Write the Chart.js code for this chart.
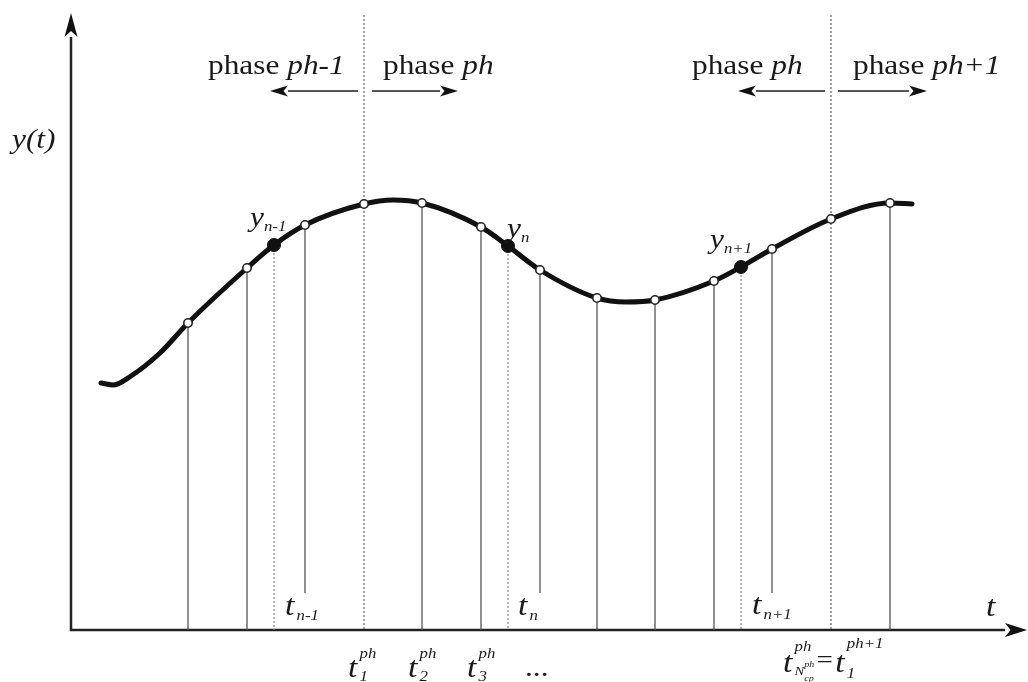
<!DOCTYPE html>
<html>
<head>
<meta charset="utf-8">
<script src="https://cdn.jsdelivr.net/npm/chart.js@4"></script>
<style>
  html, body { margin: 0; padding: 0; background: #fff; }
  #wrap { width: 1028px; height: 682px; }
</style>
</head>
<body>
<div id="wrap"><canvas id="chart" width="1028" height="682"></canvas></div>
<script>
// y(t) sampled off the figure (origin at the corner of the axes)
const curveT = [30, 42, 60, 89, 117, 176, 203, 234, 293, 322, 351, 410, 437, 469, 526, 555, 584, 643, 670, 701, 760, 819, 841];
const curveY = [247, 245, 254, 277, 307, 362, 385, 405, 426, 430, 427, 403, 384, 360, 332, 328, 330, 349, 363, 381, 411, 427, 426];

// collocation points (open circles)
const nodeT = [117, 176, 234, 293, 351, 410, 469, 526, 584, 643, 701, 760, 819];
const nodeY = [307, 362, 405, 426, 427, 403, 360, 332, 330, 349, 381, 411, 427];

// y_{n-1}, y_n, y_{n+1}
const solT = [203, 437, 670];
const solY = [385, 384, 363];

// phase boundaries t_1^ph and t_Ncp^ph = t_1^(ph+1)
const phaseT = [293, 760];
// nodes whose drop line stops above the t_n labels
const shortT = [234, 469, 701];

const tMin = -71, tMax = 957, yMin = -52, yMax = 630;
const shortEnd = 37, phaseTop = 615;

const SX = 1.12; // the figure's lettering is a bit wide
const FONT = '"Liberation Serif", "Times New Roman", serif';

// text labels: anchor (t, baseline y) + runs of text
const labels = [
  { t: 137, y: 556, runs: [{ s: 'phase ' }, { s: 'ph-1', i: true }] },
  { t: 312, y: 556, runs: [{ s: 'phase ' }, { s: 'ph', i: true }] },
  { t: 621, y: 556, runs: [{ s: 'phase ' }, { s: 'ph', i: true }] },
  { t: 782, y: 556, runs: [{ s: 'phase ' }, { s: 'ph+1', i: true }] },
  { t: -59, y: 482, runs: [{ s: 'y(t)', i: true }] },
  { t: 179, y: 404, runs: [{ s: 'y', i: true }, { s: 'n-1', i: true, z: 15, dy: 5 }] },
  { t: 436, y: 393, runs: [{ s: 'y', i: true }, { s: 'n', i: true, z: 15, dy: 5 }] },
  { t: 639, y: 382, runs: [{ s: 'y', i: true }, { s: 'n+1', i: true, z: 15, dy: 5 }] },
  { t: 214, y: 15, runs: [{ s: 't', i: true, z: 30 }, { s: 'n-1', i: true, z: 15, dy: 5, dx: 2 }] },
  { t: 447, y: 15, runs: [{ s: 't', i: true, z: 30 }, { s: 'n', i: true, z: 15, dy: 5, dx: 2 }] },
  { t: 681, y: 16, runs: [{ s: 't', i: true, z: 30 }, { s: 'n+1', i: true, z: 15, dy: 5, dx: 2 }] },
  { t: 915, y: 14, runs: [{ s: 't', i: true, z: 30 }] },
  { t: 277, y: -47, runs: [{ s: 't', i: true, z: 30 }, { s: '1', i: true, z: 15, dy: 4, dx: 2 }, { s: 'ph', i: true, z: 15, dy: -19, stack: true }] },
  { t: 337, y: -47, runs: [{ s: 't', i: true, z: 30 }, { s: '2', i: true, z: 15, dy: 4, dx: 2 }, { s: 'ph', i: true, z: 15, dy: -19, stack: true }] },
  { t: 396, y: -47, runs: [{ s: 't', i: true, z: 30 }, { s: '3', i: true, z: 15, dy: 4, dx: 2 }, { s: 'ph', i: true, z: 15, dy: -19, stack: true }] },
  { t: 454, y: -46, runs: [{ s: '...' }] },
  { t: 712, y: -42, runs: [
    { s: 't', i: true, z: 30 },
    { s: 'N', i: true, z: 13, dy: 3, dx: 2 },
    { s: 'ph', i: true, z: 9, dy: -5 },
    { s: 'cp', i: true, z: 9, dy: 9, stack: true },
    { s: 'ph', i: true, z: 15, dy: -21, stackFrom: 1 },
    { s: '=', z: 26, dy: -4, dx: 2 },
    { s: 't', i: true, z: 30, dx: 2 },
    { s: '1', i: true, z: 15, dy: 6, dx: 2 },
    { s: 'ph+1', i: true, z: 15, dy: -24, stack: true }
  ] }
];

// direction arrows under the phase labels: [from t, to t]
const phaseArrows = [[287, 199], [301, 387], [754, 667], [767, 856]];
const arrowY = 539;

function segments(list) {
  const out = [];
  list.forEach(([x, y0, y1]) => {
    out.push({ x: x, y: y0 }, { x: x, y: y1 }, { x: x, y: null });
  });
  return out;
}

const fullDrops = [], shortDrops = [], phaseDrops = [], solDrops = [];
nodeT.forEach((t, k) => {
  if (phaseT.includes(t)) phaseDrops.push([t, phaseTop, 0]);
  else if (shortT.includes(t)) shortDrops.push([t, nodeY[k], shortEnd]);
  else fullDrops.push([t, nodeY[k], 0]);
});
solT.forEach((t, k) => solDrops.push([t, solY[k], 0]));

function drawArrow(ctx, x0, y0, x1, y1, len, half, lineColor, width) {
  const a = Math.atan2(y1 - y0, x1 - x0);
  const bx = x1 - Math.cos(a) * len, by = y1 - Math.sin(a) * len;
  ctx.strokeStyle = lineColor;
  ctx.lineWidth = width;
  ctx.beginPath();
  ctx.moveTo(x0, y0);
  ctx.lineTo(bx, by);
  ctx.stroke();
  ctx.fillStyle = '#111';
  ctx.beginPath();
  ctx.moveTo(x1, y1);
  ctx.lineTo(bx - Math.sin(a) * half, by + Math.cos(a) * half);
  ctx.lineTo(bx + Math.cos(a) * len * 0.25, by + Math.sin(a) * len * 0.25);
  ctx.lineTo(bx + Math.sin(a) * half, by - Math.cos(a) * half);
  ctx.closePath();
  ctx.fill();
}

function drawRuns(ctx, x, y, runs) {
  ctx.save();
  ctx.translate(x, y);
  ctx.scale(SX, 1);
  ctx.fillStyle = '#1a1a1a';
  ctx.textBaseline = 'alphabetic';
  ctx.textAlign = 'left';
  let cursor = 0, lastStart = 0;
  const starts = [];
  runs.forEach((r, k) => {
    let start = cursor + (r.dx || 0);
    if (r.stack) start = lastStart;
    if (r.stackFrom !== undefined) start = starts[r.stackFrom];
    ctx.font = (r.i ? 'italic ' : '') + (r.z || 28) + 'px ' + FONT;
    ctx.fillText(r.s, start, r.dy || 0);
    const w = ctx.measureText(r.s).width;
    starts.push(start);
    lastStart = start;
    cursor = Math.max(cursor, start + w);
  });
  ctx.restore();
}

const figure = {
  id: 'figure',
  beforeDatasetsDraw(chart) {
    const ctx = chart.ctx, xs = chart.scales.x, ys = chart.scales.y;
    const ox = xs.getPixelForValue(0), oy = ys.getPixelForValue(0);
    ctx.save();
    ctx.lineCap = 'butt';
    drawArrow(ctx, ox - 1, oy, xs.getPixelForValue(956), oy, 22, 7, '#222', 2.5);
    drawArrow(ctx, ox, oy + 1, ox, ys.getPixelForValue(617), 24, 6.5, '#222', 2.5);
    ctx.restore();
  },
  afterDatasetsDraw(chart) {
    const ctx = chart.ctx, xs = chart.scales.x, ys = chart.scales.y;
    ctx.save();
    phaseArrows.forEach(([a, b]) => {
      drawArrow(ctx, xs.getPixelForValue(a), ys.getPixelForValue(arrowY),
        xs.getPixelForValue(b), ys.getPixelForValue(arrowY), 18, 5.5, '#555', 2);
    });
    labels.forEach(l => drawRuns(ctx, xs.getPixelForValue(l.t), ys.getPixelForValue(l.y), l.runs));
    ctx.restore();
  }
};

const lineBase = { pointRadius: 0, tension: 0, fill: false, spanGaps: false, clip: false };

new Chart(document.getElementById('chart'), {
  type: 'line',
  data: {
    datasets: [
      { label: 'solution', data: solT.map((t, k) => ({ x: t, y: solY[k] })), showLine: false,
        pointRadius: 6.5, pointBackgroundColor: '#111', pointBorderColor: '#111', pointBorderWidth: 1, order: 0, clip: false },
      { label: 'nodes', data: nodeT.map((t, k) => ({ x: t, y: nodeY[k] })), showLine: false,
        pointRadius: 4.2, pointBackgroundColor: '#fff', pointBorderColor: '#222', pointBorderWidth: 1.6, order: 1, clip: false },
      { label: 'y(t)', data: curveT.map((t, k) => ({ x: t, y: curveY[k] })), borderColor: '#111', borderWidth: 5,
        pointRadius: 0, cubicInterpolationMode: 'monotone', fill: false, borderCapStyle: 'round', order: 2, clip: false },
      Object.assign({ label: 'drops', data: segments(fullDrops), borderColor: '#555', borderWidth: 1.3, order: 3 }, lineBase),
      Object.assign({ label: 'short drops', data: segments(shortDrops), borderColor: '#555', borderWidth: 1.3, order: 3 }, lineBase),
      Object.assign({ label: 'phase bounds', data: segments(phaseDrops), borderColor: '#777', borderWidth: 1.4, borderDash: [2, 2], order: 4 }, lineBase),
      Object.assign({ label: 'sol drops', data: segments(solDrops), borderColor: '#888', borderWidth: 1.2, borderDash: [2, 2], order: 4 }, lineBase)
    ]
  },
  options: {
    responsive: false,
    animation: false,
    devicePixelRatio: 1,
    layout: { padding: 0, autoPadding: false },
    plugins: { legend: { display: false }, tooltip: { enabled: false } },
    events: [],
    scales: {
      x: { type: 'linear', display: false, min: tMin, max: tMax },
      y: { type: 'linear', display: false, min: yMin, max: yMax }
    }
  },
  plugins: [figure]
});
</script>
</body>
</html>
